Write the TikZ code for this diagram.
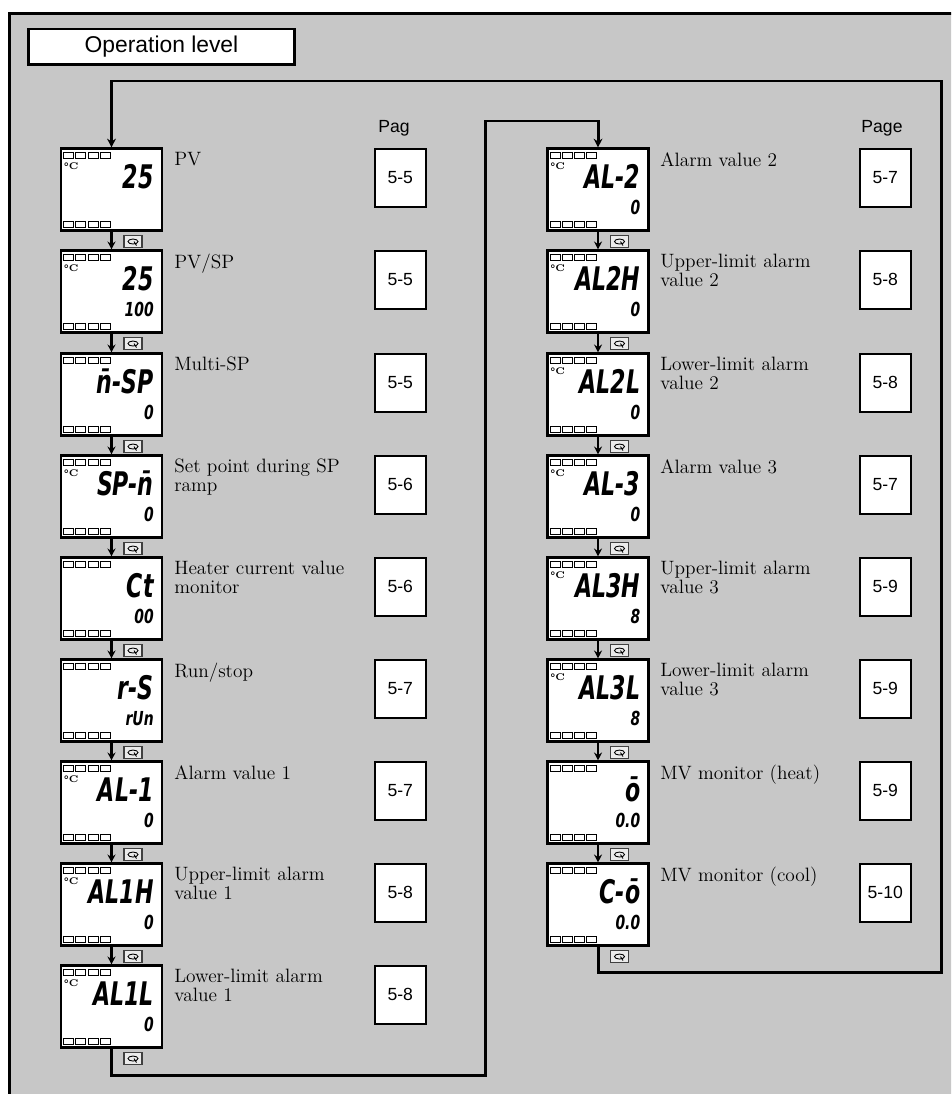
\documentclass[tikz,border=0pt]{standalone}
\usepackage{fontspec}
\usepackage{graphicx}
\setsansfont{Liberation Sans}
\newfontfamily\segfont{DejaVu Sans}
\usetikzlibrary{arrows.meta,positioning}

\tikzset{
  lcd/.style={draw,line width=1.2pt,fill=white,minimum width=2.02cm,minimum height=1.64cm,inner sep=0pt},
  ledbox/.style={line width=0.5pt},
  bigseg/.style={font=\segfont\bfseries\itshape\fontsize{18.5}{18.5}\selectfont,inner sep=0pt,text depth=0pt},
  smallseg/.style={font=\segfont\bfseries\itshape\fontsize{11}{11}\selectfont,inner sep=0pt,text height=7.5pt,text depth=0pt},
  degc/.style={font=\bfseries\fontsize{5.5}{5.5}\selectfont,inner sep=0pt},
  pagebox/.style={draw,line width=0.9pt,fill=white,minimum width=1.02cm,minimum height=1.16cm,inner sep=0pt,font=\sffamily\fontsize{10}{12}\selectfont},
  itemtext/.style={inner sep=0pt,align=left,font=\fontsize{11}{10.8}\selectfont},
  flow/.style={line width=1.7pt,-{Stealth[length=5pt,width=5pt]}},
  nextarrow/.style={line width=1.4pt,-{Stealth[length=4.5pt,width=4.5pt]}},
  keybox/.style={draw=black!75,line width=0.6pt,fill=black!8,minimum width=0.36cm,minimum height=0.24cm,inner sep=0pt},
}

% one display: name, x, y, upper text, lower text, unit
\newcommand{\lcd}[6]{%
  \node[lcd] (#1) at (#2,#3) {};
  \foreach \k in {0,...,3}{
    \draw[ledbox] ([xshift=0.07cm+\k*0.245cm,yshift=-0.1cm]#1.north west) rectangle ++(0.2cm,-0.11cm);
    \draw[ledbox] ([xshift=0.07cm+\k*0.245cm,yshift=0.09cm]#1.south west) rectangle ++(0.2cm,0.11cm);
  }
  \node[degc,anchor=north west] (#1d) at ([xshift=0.07cm,yshift=-0.3cm]#1.north west) {#6};
  \node[bigseg,anchor=base east] (#1b) at ([xshift=-0.18cm,yshift=-0.83cm]#1.north east) {\scalebox{0.68}[1]{#4}};
  \node[smallseg,anchor=base east] (#1s) at ([xshift=-0.18cm,yshift=-1.35cm]#1.north east) {\scalebox{0.72}[1]{#5}};
}

\begin{document}
\begin{tikzpicture}[x=0.02cm,y=-0.02cm]
  \useasboundingbox (0,0) rectangle (951,1094);
  \clip (0,0) rectangle (951,1094);
  \fill[white] (0,0) rectangle (951,1094);
  \filldraw[fill=black!22,line width=1.7pt] (9.5,13.5) rectangle (970,1120);

  \node[draw,line width=1.7pt,fill=white,minimum width=5.34cm,minimum height=0.72cm,inner sep=0pt,
    font=\sffamily\fontsize{13}{15}\selectfont] (title) at (161.5,47) {Operation level\hspace{0.3cm}};

  % left column
  \lcd{l1}{111.5}{189.5}{25}{}{°C}
  \lcd{l2}{111.5}{291.5}{25}{100}{°C}
  \lcd{l3}{111.5}{394.5}{\={n}-SP}{0}{}
  \lcd{l4}{111.5}{496.5}{SP-\={n}}{0}{°C}
  \lcd{l5}{111.5}{598.5}{Ct}{00}{}
  \lcd{l6}{111.5}{700.5}{r-S}{rUn}{}
  \lcd{l7}{111.5}{802.5}{AL-1}{0}{°C}
  \lcd{l8}{111.5}{904.5}{AL1H}{0}{°C}
  \lcd{l9}{111.5}{1006.5}{AL1L}{0}{°C}

  % right column
  \lcd{r1}{598}{189.5}{AL-2}{0}{°C}
  \lcd{r2}{598}{291.5}{AL2H}{0}{°C}
  \lcd{r3}{598}{394.5}{AL2L}{0}{°C}
  \lcd{r4}{598}{496.5}{AL-3}{0}{°C}
  \lcd{r5}{598}{598.5}{AL3H}{8}{°C}
  \lcd{r6}{598}{700.5}{AL3L}{8}{°C}
  \lcd{r7}{598}{802.5}{\={o}}{0.0}{}
  \lcd{r8}{598}{904.5}{C-\={o}}{0.0}{}

  \node[itemtext,anchor=north west] (t1) at (174,152) {PV};
  \node[itemtext,anchor=north west] (t2) at (174,254) {PV/SP};
  \node[itemtext,anchor=north west] (t3) at (174,357) {Multi-SP};
  \node[itemtext,anchor=north west] (t4) at (174,459) {Set point during SP\\ramp};
  \node[itemtext,anchor=north west] (t5) at (174,561) {Heater current value\\monitor};
  \node[itemtext,anchor=north west] (t6) at (174,663) {Run/stop};
  \node[itemtext,anchor=north west] (t7) at (174,765) {Alarm value 1};
  \node[itemtext,anchor=north west] (t8) at (174,867) {Upper-limit alarm\\value 1};
  \node[itemtext,anchor=north west] (t9) at (174,969) {Lower-limit alarm\\value 1};

  \node[itemtext,anchor=north west] (u1) at (660,152) {Alarm value 2};
  \node[itemtext,anchor=north west] (u2) at (660,254) {Upper-limit alarm\\value 2};
  \node[itemtext,anchor=north west] (u3) at (660,357) {Lower-limit alarm\\value 2};
  \node[itemtext,anchor=north west] (u4) at (660,459) {Alarm value 3};
  \node[itemtext,anchor=north west] (u5) at (660,561) {Upper-limit alarm\\value 3};
  \node[itemtext,anchor=north west] (u6) at (660,663) {Lower-limit alarm\\value 3};
  \node[itemtext,anchor=north west] (u7) at (660,765) {MV monitor (heat)};
  \node[itemtext,anchor=north west] (u8) at (660,867) {MV monitor (cool)};

  % page references
  \node[font=\sffamily\fontsize{10}{12}\selectfont,inner sep=0pt] (pgl) at (394,128) {Pag};
  \node[font=\sffamily\fontsize{10}{12}\selectfont,inner sep=0pt] (pgr) at (882,128) {Page};
  \foreach \i/\y/\p in {1/148/5-5,2/250/5-5,3/353/5-5,4/455/5-6,5/557/5-6,6/659/5-7,7/761/5-7,8/863/5-8,9/965/5-8}
    \node[pagebox,anchor=north west] (p\i) at (374,\y) {\p};
  \foreach \i/\y/\p in {1/148/5-7,2/250/5-8,3/353/5-8,4/455/5-7,5/557/5-9,6/659/5-9,7/761/5-9,8/863/5-10}
    \node[pagebox,anchor=north west] (q\i) at (859,\y) {\p};

  % key steps
  \foreach \a/\b in {l1/l2,l2/l3,l3/l4,l4/l5,l5/l6,l6/l7,l7/l8,l8/l9,r1/r2,r2/r3,r3/r4,r4/r5,r5/r6,r6/r7,r7/r8}
    \draw[nextarrow] (\a.south) -- (\b.north);
  \foreach \a in {l1,l2,l3,l4,l5,l6,l7,l8,l9,r1,r2,r3,r4,r5,r6,r7,r8}{
    \node[keybox] (k\a) at ([xshift=0.43cm,yshift=-0.2cm]\a.south) {};
    \draw[line width=0.5pt] (k\a.center) ellipse (0.1cm and 0.05cm);
    \draw[line width=0.5pt] ([xshift=0.02cm]k\a.center) -- ++(0.05cm,-0.08cm);
  }

  % loops between the columns
  \coordinate (lb) at (485,1075);
  \coordinate (rt) at (598,121);
  \coordinate (rb) at (941,972);
  \coordinate (tl) at (111.5,81);
  \draw[flow] (l9.south) |- (lb) |- (rt) -- (r1.north);
  \draw[flow] (r8.south) |- (rb) |- (tl) -- (l1.north);
\end{tikzpicture}
\end{document}
